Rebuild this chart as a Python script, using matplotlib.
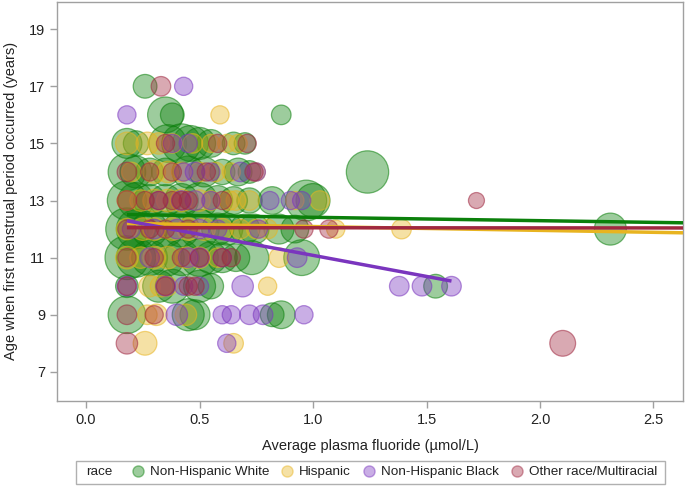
import matplotlib
matplotlib.use("Agg")
import matplotlib.pyplot as plt
from matplotlib.lines import Line2D
from matplotlib.patches import Rectangle
import numpy as np

plt.rcParams['font.family'] = ['Liberation Sans', 'DejaVu Sans']

races = ["Non-Hispanic White", "Hispanic", "Non-Hispanic Black", "Other race/Multiracial"]

# (fluoride, age, weight)
nhw = [
    (0.26, 17, 2.2), (0.35, 16, 5), (0.38, 16, 2.2), (0.86, 16, 1.5),
    (0.18, 15, 3.5), (0.22, 15, 2.5), (0.36, 15, 5.5), (0.42, 15, 6), (0.46, 15, 5), (0.50, 15, 4),
    (0.55, 15, 3), (0.65, 15, 2), (0.70, 15, 1.8),
    (0.18, 14, 5.5), (0.22, 14, 4), (0.28, 14, 3), (0.35, 14, 3), (0.45, 14, 4), (0.52, 14, 3.5),
    (0.60, 14, 2.5), (0.67, 14, 3), (0.72, 14, 2),
    (0.18, 13, 6), (0.22, 13, 5), (0.28, 13, 4), (0.35, 13, 4), (0.42, 13, 4.5), (0.50, 13, 5),
    (0.58, 13, 3.5), (0.65, 13, 3), (0.72, 13, 2.5), (0.82, 13, 3), (0.97, 13, 6.5), (1.00, 13, 4.5),
    (0.18, 12, 7), (0.22, 12, 6), (0.28, 12, 5), (0.35, 12, 5), (0.42, 12, 5), (0.50, 12, 6),
    (0.58, 12, 4), (0.62, 12, 4), (0.70, 12, 3.5), (0.74, 12, 3.5), (0.85, 12, 3.5), (0.92, 12, 3),
    (0.18, 11, 7.5), (0.22, 11, 6), (0.28, 11, 5), (0.35, 11, 5.5), (0.42, 11, 5), (0.50, 11, 5.5),
    (0.55, 11, 4), (0.60, 11, 3.5), (0.66, 11, 3), (0.73, 11, 4.5), (0.95, 11, 5),
    (0.18, 10, 2), (0.32, 10, 4), (0.38, 10, 4.5), (0.50, 10, 4), (0.55, 10, 2.5), (1.54, 10, 2.2),
    (0.18, 9, 5.5), (0.45, 9, 4), (0.48, 9, 3.5), (0.82, 9, 2.2), (0.86, 9, 3),
    (1.24, 14, 7), (2.31, 12, 4),
]
hisp = [
    (0.59, 16, 1.3),
    (0.18, 15, 2), (0.27, 15, 2), (0.32, 15, 1.8), (0.38, 15, 1.5), (0.47, 15, 1.5), (0.55, 15, 1.3),
    (0.62, 15, 1.3), (0.67, 15, 1.3),
    (0.20, 14, 1.5), (0.30, 14, 2), (0.36, 14, 1.8), (0.42, 14, 1.5), (0.50, 14, 1.5), (0.57, 14, 1.5),
    (0.64, 14, 1.3), (0.75, 14, 1.3),
    (0.18, 13, 1.5), (0.24, 13, 1.8), (0.30, 13, 2), (0.36, 13, 2), (0.42, 13, 2), (0.50, 13, 1.8),
    (0.55, 13, 1.5), (0.63, 13, 1.5), (0.66, 13, 1.5), (0.72, 13, 1.5), (0.92, 13, 1.3), (1.03, 13, 1.5),
    (0.18, 12, 1.8), (0.25, 12, 2), (0.30, 12, 2), (0.38, 12, 2), (0.45, 12, 2), (0.52, 12, 2),
    (0.60, 12, 1.8), (0.68, 12, 1.5), (0.75, 12, 1.5), (0.80, 12, 1.5), (1.10, 12, 1.3), (1.39, 12, 1.5),
    (0.18, 11, 2), (0.24, 11, 1.8), (0.30, 11, 2), (0.36, 11, 2), (0.44, 11, 1.8), (0.50, 11, 1.8),
    (0.58, 11, 1.5), (0.85, 11, 1.5),
    (0.28, 10, 1.8), (0.33, 10, 1.8), (0.36, 10, 1.5), (0.80, 10, 1.3),
    (0.27, 9, 1.5), (0.31, 9, 1.8), (0.44, 9, 1.8),
    (0.26, 8, 2.2), (0.65, 8, 1.5),
]
nhb = [
    (0.43, 17, 1.3), (0.18, 16, 1.3),
    (0.38, 15, 1.3), (0.45, 15, 1.3),
    (0.43, 14, 1.3), (0.48, 14, 1.5), (0.55, 14, 1.3), (0.68, 14, 1.5), (0.75, 14, 1.3),
    (0.32, 13, 1.3), (0.42, 13, 1.5), (0.48, 13, 1.5), (0.55, 13, 1.3), (0.81, 13, 1.3), (0.90, 13, 1.3),
    (0.95, 13, 1.3),
    (0.20, 12, 1.3), (0.30, 12, 1.5), (0.40, 12, 1.5), (0.50, 12, 1.5), (0.58, 12, 1.3), (0.76, 12, 1.3),
    (0.28, 11, 1.5), (0.45, 11, 1.5), (0.50, 11, 1.5), (0.60, 11, 1.3), (0.93, 11, 1.5),
    (0.18, 10, 1.5), (0.35, 10, 1.5), (0.43, 10, 1.3), (0.50, 10, 1.3), (0.69, 10, 1.8),
    (1.38, 10, 1.5), (1.48, 10, 1.5), (1.61, 10, 1.5),
    (0.40, 9, 1.8), (0.60, 9, 1.3), (0.64, 9, 1.3), (0.72, 9, 1.5), (0.78, 9, 1.5), (0.96, 9, 1.3),
    (0.62, 8, 1.3),
]
other = [
    (0.33, 17, 1.5),
    (0.35, 15, 1.3), (0.58, 15, 1.3), (0.71, 15, 1.3),
    (0.18, 14, 1.5), (0.28, 14, 1.3), (0.38, 14, 1.3), (0.53, 14, 1.3), (0.74, 14, 1.3),
    (0.18, 13, 1.5), (0.26, 13, 1.3), (0.32, 13, 1.3), (0.38, 13, 1.3), (0.42, 13, 1.3), (0.45, 13, 1.3),
    (0.60, 13, 1.3), (1.72, 13, 1.0),
    (0.18, 12, 1.3), (0.28, 12, 1.3), (0.35, 12, 1.3), (0.45, 12, 1.3), (0.96, 12, 1.3), (1.07, 12, 1.3),
    (0.18, 11, 1.3), (0.30, 11, 1.3), (0.42, 11, 1.3), (0.50, 11, 1.3), (0.60, 11, 1.3), (0.64, 11, 1.3),
    (0.18, 10, 1.3), (0.35, 10, 1.3), (0.45, 10, 1.3), (0.48, 10, 1.3),
    (0.18, 9, 1.5), (0.30, 9, 1.3),
    (0.18, 8, 1.8), (2.10, 8, 2.6),
]

# regression line endpoints (x0, x1, y0, y1)
fit_nhw = (0.18, 2.63, 12.51, 12.22)
fit_hisp = (0.18, 2.63, 12.20, 11.87)
fit_nhb = (0.18, 1.61, 12.29, 10.18)
fit_other = (0.18, 2.63, 12.05, 12.04)

colors = ["#0B800B", "#E8B420", "#7A35BE", "#A02840"]
datasets = [nhw, hisp, nhb, other]
fits = [fit_nhw, fit_hisp, fit_nhb, fit_other]

x_ticks = [0.0, 0.5, 1.0, 1.5, 2.0, 2.5]
y_ticks = [7, 9, 11, 13, 15, 17, 19]

fig = plt.figure(figsize=(6.85, 4.86), dpi=100)
ax = fig.add_axes([57/685, 1 - 401/486, 626/685, 399.5/486])

px2pt = 72 / 100
for data, c in zip(datasets, colors):
    arr = np.array(data)
    d_px = 16 * np.sqrt(arr[:, 2])
    s = (d_px * px2pt) ** 2
    ax.scatter(arr[:, 0], arr[:, 1], s=s, facecolor=matplotlib.colors.to_rgba(c, 0.4),
               edgecolor=matplotlib.colors.to_rgba(c, 0.55), linewidth=0.9, zorder=2)

for f, c in zip(fits, colors):
    ax.plot([f[0], f[1]], [f[2], f[3]], color=c, lw=2.5, zorder=3, solid_capstyle='butt')

ax.set_xlim(-0.128, 2.63)
ax.set_ylim(5.98, 19.97)
ax.set_xticks(x_ticks)
ax.set_xticklabels([f"{t:.1f}" for t in x_ticks])
ax.set_yticks(y_ticks)
for sp in ax.spines.values():
    sp.set_color("#A0A0A0")
    sp.set_linewidth(1.0)
ax.tick_params(axis='both', colors="#A0A0A0", labelcolor="#222222", labelsize=10.5, length=5, width=1)
ax.set_xlabel("Average plasma fluoride (µmol/L)", fontsize=10.5, color="#222222", labelpad=9)
ax.set_ylabel("Age when first menstrual period occurred (years)", fontsize=10.5, color="#222222", labelpad=8)

# legend
fs = 9.7
handles = [Line2D([], [], marker='o', linestyle='none', markersize=8,
                  markerfacecolor=matplotlib.colors.to_rgba(c, 0.4),
                  markeredgecolor=matplotlib.colors.to_rgba(c, 0.45)) for c in colors]
leg = fig.legend(handles, races, loc='center left', bbox_to_anchor=(132.6/685, 1 - 472/486),
                 ncol=4, frameon=False, fontsize=fs, handletextpad=0.49, columnspacing=0.93,
                 borderpad=0, borderaxespad=0, handlelength=0.8)
for t in leg.get_texts():
    t.set_color("#222222")
fig.text(86/685, 1 - 472/486, "race", fontsize=fs, va='center', ha='left', color="#222222")
fig.patches.append(Rectangle((76/685, 1 - 484/486), (665 - 76)/685, 23/486, transform=fig.transFigure,
                             fill=False, edgecolor="#B0B0B0", linewidth=1.0))

fig.savefig("out.png", dpi=100)
